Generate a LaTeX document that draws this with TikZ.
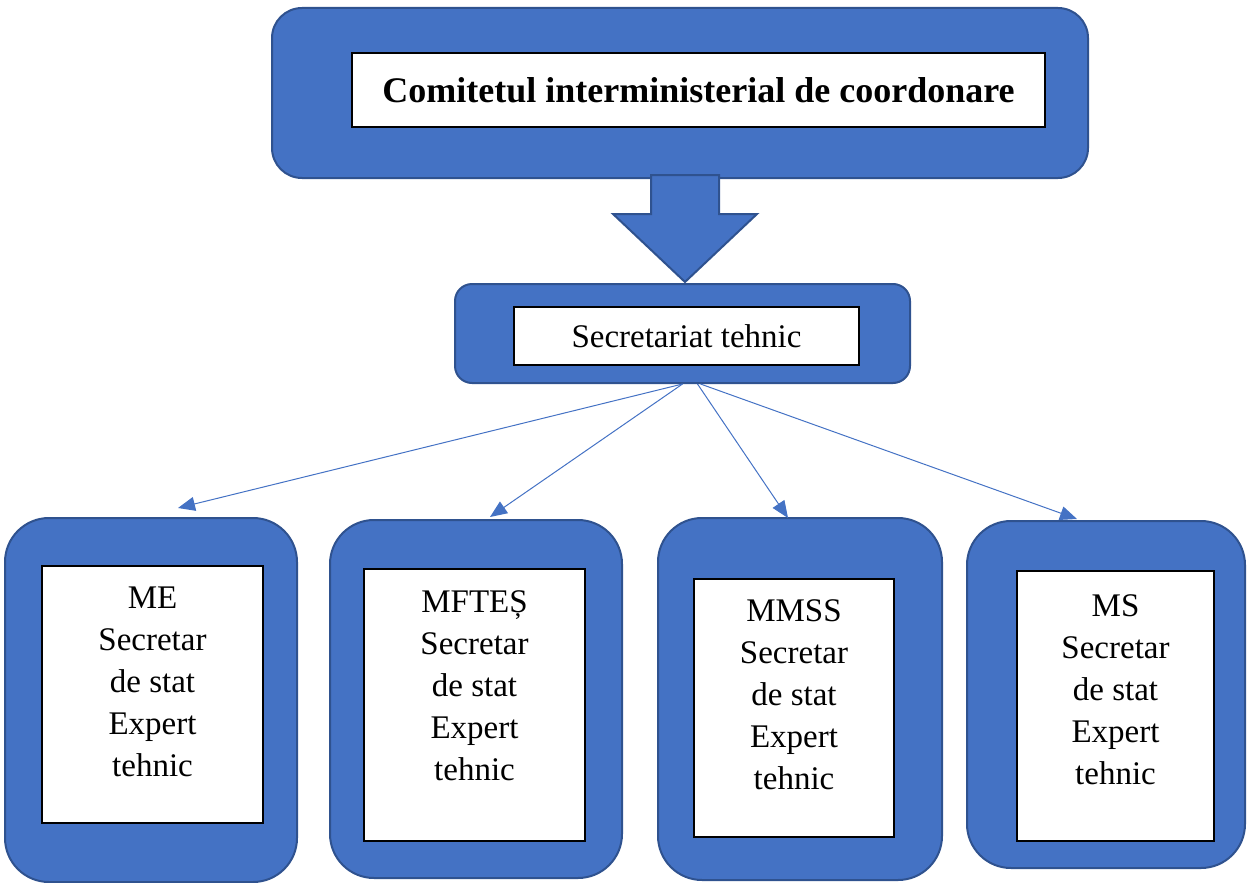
\documentclass[tikz,border=0pt]{standalone}
\usepackage{fontspec}
\setmainfont{Liberation Serif}
\usepackage{xcolor}
\usepackage{tikz}
\usetikzlibrary{calc,positioning,arrows.meta}
\definecolor{boxblue}{HTML}{4472C4}
\definecolor{edgeblue}{HTML}{2F528F}
\tikzset{
  bluebox/.style={draw=edgeblue, line width=2pt, fill=boxblue, inner sep=0pt},
  whitebox/.style={draw=black, line width=1.8pt, fill=white, inner sep=0pt},
  boxtext/.style={align=center, inner sep=0pt, font=\fontsize{33}{42}\selectfont},
  thinarrow/.style={draw=boxblue, line width=1pt, -{Triangle[length=17pt,width=14pt]}}
}
\begin{document}
\begin{tikzpicture}[x=1pt,y=-1pt]
            \useasboundingbox (0,0) rectangle (1247,883);
            \node[bluebox, rounded corners=30pt, minimum width=816pt, minimum height=170pt] (comitet) at (680,93) {};
            \node[whitebox, minimum width=693pt, minimum height=74pt, font=\bfseries\fontsize{36}{42}\selectfont] (comitetText) at (698.5,90) {Comitetul interministerial de coordonare};
            \node[bluebox, rounded corners=17pt, minimum width=455pt, minimum height=99pt] (secretariat) at (682.5,333.5) {};
            \node[whitebox, minimum width=345pt, minimum height=58pt, font=\fontsize{33}{42}\selectfont] (secretariatText) at (686.5,336) {Secretariat tehnic};
            \coordinate (tip) at ($(secretariat.north)+(2.5,-1)$);
            \draw[bluebox, line join=miter] (tip) -- ++(72,-68) -- ++(-38,0) -- ++(0,-39) -- ++(-68,0) -- ++(0,39) -- ++(-38,0) -- cycle;
            \node[bluebox, rounded corners=44pt, minimum width=292pt, minimum height=364pt] (me) at (151,700) {};
            \node[whitebox, minimum width=221pt, minimum height=257pt] (meBox) at (152.5,694.5) {};
            \node[boxtext, below=22pt of meBox.north] (meText) {ME\\Secretar\\de stat\\Expert\\tehnic};
            \node[bluebox, rounded corners=44pt, minimum width=292pt, minimum height=358pt] (mftes) at (476,699) {};
            \node[whitebox, minimum width=221pt, minimum height=272pt] (mftesBox) at (474.5,705) {};
            \node[boxtext, below=22pt of mftesBox.north] (mftesText) {MFTEȘ\\Secretar\\de stat\\Expert\\tehnic};
            \node[bluebox, rounded corners=44pt, minimum width=284pt, minimum height=362pt] (mmss) at (800,699) {};
            \node[whitebox, minimum width=200pt, minimum height=258pt] (mmssBox) at (794,708) {};
            \node[boxtext, below=21pt of mmssBox.north] (mmssText) {MMSS\\Secretar\\de stat\\Expert\\tehnic};
            \node[bluebox, rounded corners=44pt, minimum width=278pt, minimum height=347pt] (ms) at (1106,694.5) {};
            \node[whitebox, minimum width=197pt, minimum height=270pt] (msBox) at (1115.5,706) {};
            \node[boxtext, below=24pt of msBox.north] (msText) {MS\\Secretar\\de stat\\Expert\\tehnic};
            \coordinate (toMe) at (178,508);
            \coordinate (toMftes) at (490,517);
            \coordinate (toMmss) at (788,518);
            \coordinate (toMs) at (1077,519);
            \draw[thinarrow] (secretariat.south) -- (toMe);
            \draw[thinarrow] (secretariat.south) -- (toMftes);
            \draw[thinarrow] ([xshift=15pt]secretariat.south) -- (toMmss);
            \draw[thinarrow] ([xshift=18pt]secretariat.south) -- (toMs);
        \end{tikzpicture}
\end{document}
